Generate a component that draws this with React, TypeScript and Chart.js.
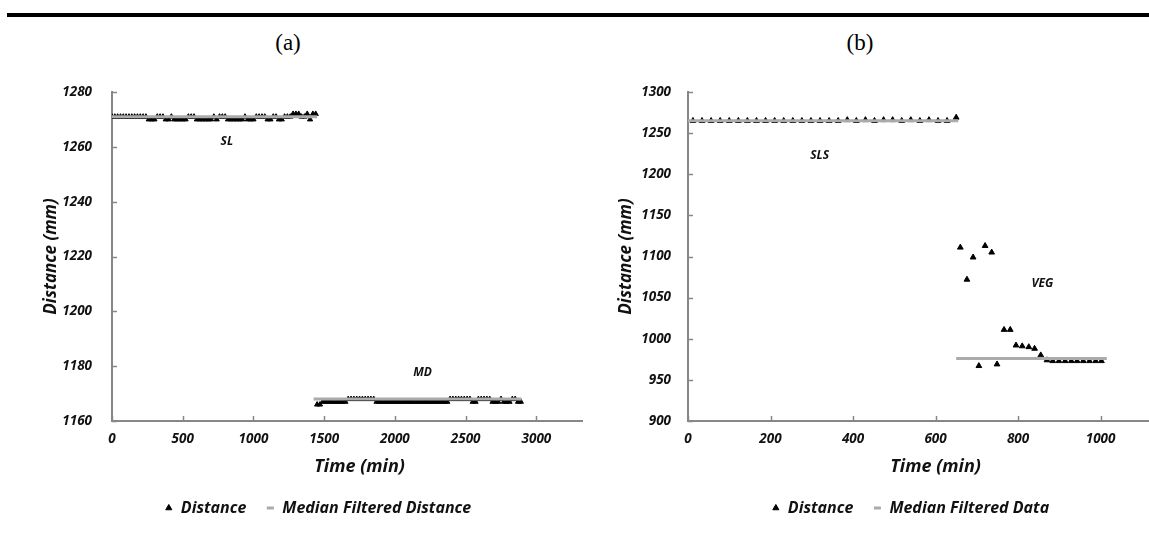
import React, { useEffect, useRef } from 'react';
import { Chart, registerables } from 'chart.js';

Chart.register(...registerables);

// ---------------- Panel (a) data ----------------
const A_SL_TIME = [0, 20, 40, 60, 80, 100, 120, 140, 160, 180, 200, 220, 240, 260, 280, 300, 320, 340, 360, 380, 400, 420, 440, 460, 480, 500, 520, 540, 560, 580, 600, 620, 640, 660, 680, 700, 720, 740, 760, 780, 800, 820, 840, 860, 880, 900, 920, 940, 960, 980, 1000, 1020, 1040, 1060, 1080, 1100, 1120, 1140, 1160, 1180, 1200, 1220, 1240, 1260, 1280, 1300, 1320, 1340, 1360, 1380, 1400, 1420, 1440];
const A_SL_DIST = [1271, 1271, 1271, 1271, 1271, 1271, 1271, 1271, 1271, 1271, 1271, 1271, 1271, 1270, 1270, 1270, 1271, 1271, 1271, 1270, 1270, 1271, 1270, 1270, 1270, 1270, 1270, 1271, 1271, 1271, 1270, 1270, 1270, 1270, 1270, 1270, 1271, 1270, 1271, 1271, 1271, 1270, 1270, 1270, 1270, 1270, 1270, 1271, 1270, 1270, 1270, 1271, 1271, 1271, 1271, 1270, 1270, 1271, 1271, 1270, 1270, 1271, 1271, 1271, 1272, 1272, 1272, 1271, 1271, 1272, 1270, 1272, 1272];
const A_MD_TIME = [1450, 1470, 1490, 1510, 1530, 1550, 1570, 1590, 1610, 1630, 1650, 1670, 1690, 1710, 1730, 1750, 1770, 1790, 1810, 1830, 1850, 1870, 1890, 1910, 1930, 1950, 1970, 1990, 2010, 2030, 2050, 2070, 2090, 2110, 2130, 2150, 2170, 2190, 2210, 2230, 2250, 2270, 2290, 2310, 2330, 2350, 2370, 2390, 2410, 2430, 2450, 2470, 2490, 2510, 2530, 2550, 2570, 2590, 2610, 2630, 2650, 2670, 2690, 2710, 2730, 2750, 2770, 2790, 2810, 2830, 2850, 2870, 2890];
const A_MD_DIST = [1166, 1166, 1167, 1167, 1167, 1167, 1167, 1167, 1167, 1167, 1167, 1168, 1168, 1168, 1168, 1168, 1168, 1168, 1168, 1168, 1168, 1167, 1167, 1167, 1167, 1167, 1167, 1167, 1167, 1167, 1167, 1167, 1167, 1167, 1167, 1167, 1167, 1167, 1167, 1167, 1167, 1167, 1167, 1167, 1167, 1167, 1167, 1168, 1168, 1168, 1168, 1168, 1168, 1168, 1168, 1167, 1167, 1168, 1168, 1168, 1168, 1168, 1167, 1167, 1167, 1168, 1167, 1167, 1167, 1168, 1168, 1167, 1167];
const A_MEDIAN_FROM = [0, 1425];
const A_MEDIAN_TO = [1450, 2895];
const A_MEDIAN_LEVEL = [1271, 1168];
const A_X_TICKS = [0, 500, 1000, 1500, 2000, 2500, 3000, 3500];
const A_Y_TICKS = [1160, 1180, 1200, 1220, 1240, 1260, 1280];
const A_NOTE_TEXT = ['SL', 'MD'];
const A_NOTE_X = [812, 2195];
const A_NOTE_Y = [1261.8, 1177.5];

// ---------------- Panel (b) data ----------------
const B_SLS_TIME = [12, 34, 56, 78, 100, 122, 144, 166, 188, 210, 232, 254, 276, 298, 320, 342, 364, 386, 408, 430, 452, 474, 496, 518, 540, 562, 584, 606, 628, 650];
const B_SLS_DIST = [1265, 1265, 1265, 1265, 1265, 1265, 1265, 1265, 1265, 1265, 1265, 1265, 1265, 1265, 1265, 1265, 1265, 1266, 1265, 1266, 1265, 1266, 1266, 1265, 1266, 1265, 1266, 1265, 1265, 1269];
const B_VEG_TIME = [660, 676, 691, 705, 720, 736, 749, 766, 781, 795, 810, 826, 840, 855, 870, 884, 899, 914, 929, 943, 958, 973, 988, 1002];
const B_VEG_DIST = [1111, 1072, 1099, 967, 1113, 1105, 969, 1011, 1011, 992, 991, 990, 988, 980, 974, 973, 973, 973, 973, 973, 973, 973, 973, 973];
const B_MEDIAN_FROM = [0, 650];
const B_MEDIAN_TO = [655, 1015];
const B_MEDIAN_LEVEL = [1265, 976];
const B_X_TICKS = [0, 200, 400, 600, 800, 1000, 1200];
const B_Y_TICKS = [900, 950, 1000, 1050, 1100, 1150, 1200, 1250, 1300];
const B_NOTE_TEXT = ['SLS', 'VEG'];
const B_NOTE_X = [319, 859];
const B_NOTE_Y = [1223, 1067];

// ---------------- styling ----------------
const FONT = '"Open Sans"';
const TEXT = '#111';
const AXIS = '#878787';
const MEDIAN = '#ababab';

function zipPoints(xs: number[], ys: number[]) {
  return xs.map((x, i) => ({ x, y: ys[i] }));
}

function medianPoints(from: number[], to: number[], level: number[]) {
  const pts: { x: number; y: number | null }[] = [];
  level.forEach((lv, i) => {
    if (i > 0) pts.push({ x: from[i], y: null });
    pts.push({ x: from[i], y: lv });
    pts.push({ x: to[i], y: lv });
  });
  return pts;
}

const innerTicks = {
  id: 'innerTicks',
  afterDatasetsDraw(chart: any) {
    const { ctx, chartArea, scales } = chart;
    ctx.save();
    ctx.strokeStyle = AXIS;
    ctx.lineWidth = 1.5;
    scales.x.ticks.forEach((t: any) => {
      const px = Math.round(scales.x.getPixelForValue(t.value)) + 0.5;
      ctx.beginPath();
      ctx.moveTo(px, chartArea.bottom);
      ctx.lineTo(px, chartArea.bottom - 5);
      ctx.stroke();
    });
    scales.y.ticks.forEach((t: any) => {
      const py = Math.round(scales.y.getPixelForValue(t.value)) + 0.5;
      ctx.beginPath();
      ctx.moveTo(chartArea.left, py);
      ctx.lineTo(chartArea.left + 5, py);
      ctx.stroke();
    });
    ctx.restore();
  },
};

const notesPlugin = {
  id: 'notes',
  afterDatasetsDraw(chart: any, _args: any, opts: any) {
    const { ctx, scales } = chart;
    ctx.save();
    ctx.fillStyle = TEXT;
    ctx.font = `italic bold 12px ${FONT}`;
    ctx.textAlign = 'center';
    ctx.textBaseline = 'middle';
    (opts.text as string[]).forEach((t, i) => {
      ctx.fillText(t, scales.x.getPixelForValue(opts.x[i]), scales.y.getPixelForValue(opts.y[i]));
    });
    ctx.restore();
  },
};

const legendShift = {
  id: 'legendShift',
  afterLayout(chart: any, _args: any, opts: any) {
    if (chart.legend) {
      chart.legend.left += opts.dx;
      chart.legend.right += opts.dx;
    }
  },
};

type Spec = {
  distance: { x: number; y: number }[];
  median: { x: number; y: number | null }[];
  medianLabel: string;
  xTicks: number[];
  yTicks: number[];
  notes: { text: string[]; x: number[]; y: number[] };
  canvasWidth: number;
  padRight: number;
  yAxisWidth: number;
  yTitlePad: number;
  yTickPad: number;
  legendDx: number;
  pointRadius: number;
};

function ChartPanel({ spec, left, width }: { spec: Spec; left: number; width: number }) {
  const ref = useRef<HTMLCanvasElement>(null);
  useEffect(() => {
    const tickFont = { family: FONT, size: 13.5, style: 'italic' as const, weight: 'bold' as const };
    const chart = new Chart(ref.current as HTMLCanvasElement, {
      type: 'scatter',
      data: {
        datasets: [
          {
            label: 'Distance',
            data: spec.distance,
            pointStyle: 'triangle',
            pointRadius: spec.pointRadius,
            pointBorderWidth: 1,
            pointBackgroundColor: '#000',
            pointBorderColor: '#000',
            backgroundColor: '#000',
            borderColor: '#000',
            showLine: false,
            order: 1,
          },
          {
            label: spec.medianLabel,
            data: spec.median as any,
            showLine: true,
            spanGaps: false,
            borderColor: MEDIAN,
            backgroundColor: MEDIAN,
            borderWidth: 3,
            pointRadius: 0,
            pointStyle: 'line',
            pointBorderWidth: 3,
            pointBorderColor: MEDIAN,
            pointBackgroundColor: MEDIAN,
            order: 0,
          },
        ],
      },
      options: {
        responsive: false,
        animation: false,
        events: [],
        layout: { padding: { left: 0, top: 32, right: spec.padRight, bottom: 26 } },
        plugins: {
          legend: {
            position: 'bottom',
            labels: {
              usePointStyle: true,
              boxWidth: 8,
              boxHeight: 5,
              padding: 20,
              color: TEXT,
              font: { family: FONT, size: 16, style: 'italic', weight: 'bold' },
              sort: (a: any, b: any) => a.datasetIndex - b.datasetIndex,
            },
          },
          tooltip: { enabled: false },
          notes: spec.notes,
          legendShift: { dx: spec.legendDx },
        } as any,
        scales: {
          x: {
            type: 'linear',
            position: 'bottom',
            min: spec.xTicks[0],
            max: spec.xTicks[spec.xTicks.length - 1],
            afterBuildTicks: (s: any) => {
              s.ticks = spec.xTicks.map((v) => ({ value: v }));
            },
            afterFit: (s: any) => {
              s.height = 59;
            },
            ticks: { padding: 10, color: TEXT, font: tickFont, maxRotation: 0, autoSkip: false, callback: (v: any) => String(v) },
            grid: { display: false, drawTicks: false },
            border: { display: true, color: AXIS, width: 2 },
            title: {
              display: true,
              text: 'Time (min)',
              color: TEXT,
              font: { family: FONT, size: 18, style: 'italic', weight: 'bold' },
              padding: { top: 0, bottom: 2 },
            },
          },
          y: {
            type: 'linear',
            position: 'left',
            min: spec.yTicks[0],
            max: spec.yTicks[spec.yTicks.length - 1],
            afterBuildTicks: (s: any) => {
              s.ticks = spec.yTicks.map((v) => ({ value: v }));
            },
            afterFit: (s: any) => {
              s.width = spec.yAxisWidth;
            },
            ticks: { padding: spec.yTickPad, color: TEXT, font: tickFont, callback: (v: any) => String(v) },
            grid: { display: false, drawTicks: false },
            border: { display: true, color: AXIS, width: 2 },
            title: {
              display: true,
              text: 'Distance (mm)',
              color: TEXT,
              font: { family: FONT, size: 17, style: 'italic', weight: 'bold' },
              padding: { top: spec.yTitlePad, bottom: 0 },
            },
          },
        },
      } as any,
      plugins: [innerTicks, notesPlugin, legendShift],
    });
    return () => chart.destroy();
  }, [spec]);
  return (
    <div style={{ position: 'absolute', left, top: 60, width, height: 492, overflow: 'hidden' }}>
      <canvas
        ref={ref}
        width={spec.canvasWidth}
        height={492}
        style={{ width: spec.canvasWidth, height: 492, display: 'block' }}
      />
    </div>
  );
}

const SPEC_A: Spec = {
  distance: [...zipPoints(A_SL_TIME, A_SL_DIST), ...zipPoints(A_MD_TIME, A_MD_DIST)],
  median: medianPoints(A_MEDIAN_FROM, A_MEDIAN_TO, A_MEDIAN_LEVEL),
  medianLabel: 'Median Filtered Distance',
  xTicks: A_X_TICKS,
  yTicks: A_Y_TICKS,
  notes: { text: A_NOTE_TEXT, x: A_NOTE_X, y: A_NOTE_Y },
  canvasWidth: 632,
  padRight: 24,
  yAxisWidth: 112,
  yTitlePad: 41,
  yTickPad: 20,
  legendDx: 14,
  pointRadius: 3,
};

const SPEC_B: Spec = {
  distance: [...zipPoints(B_SLS_TIME, B_SLS_DIST), ...zipPoints(B_VEG_TIME, B_VEG_DIST)],
  median: medianPoints(B_MEDIAN_FROM, B_MEDIAN_TO, B_MEDIAN_LEVEL),
  medianLabel: 'Median Filtered Data',
  xTicks: B_X_TICKS,
  yTicks: B_Y_TICKS,
  notes: { text: B_NOTE_TEXT, x: B_NOTE_X, y: B_NOTE_Y },
  canvasWidth: 625,
  padRight: 24,
  yAxisWidth: 105,
  yTitlePad: 33,
  yTickPad: 17,
  legendDx: 27,
  pointRadius: 3.3,
};

export default function App() {
  return (
    <div style={{ position: 'absolute', left: 0, top: 0, width: 1149, height: 552, overflow: 'hidden', background: '#fff' }}>
      <div style={{ position: 'absolute', left: 7, top: 13, width: 1142, height: 4, background: '#000' }} />
      <div style={{ position: 'absolute', left: 238, top: 31, width: 100, textAlign: 'center', fontFamily: '"Liberation Serif", serif', fontSize: 23, lineHeight: '24px', color: '#000' }}>(a)</div>
      <div style={{ position: 'absolute', left: 810, top: 31, width: 100, textAlign: 'center', fontFamily: '"Liberation Serif", serif', fontSize: 23, lineHeight: '24px', color: '#000' }}>(b)</div>
      <ChartPanel spec={SPEC_A} left={0} width={583} />
      <ChartPanel spec={SPEC_B} left={583} width={566} />
    </div>
  );
}
